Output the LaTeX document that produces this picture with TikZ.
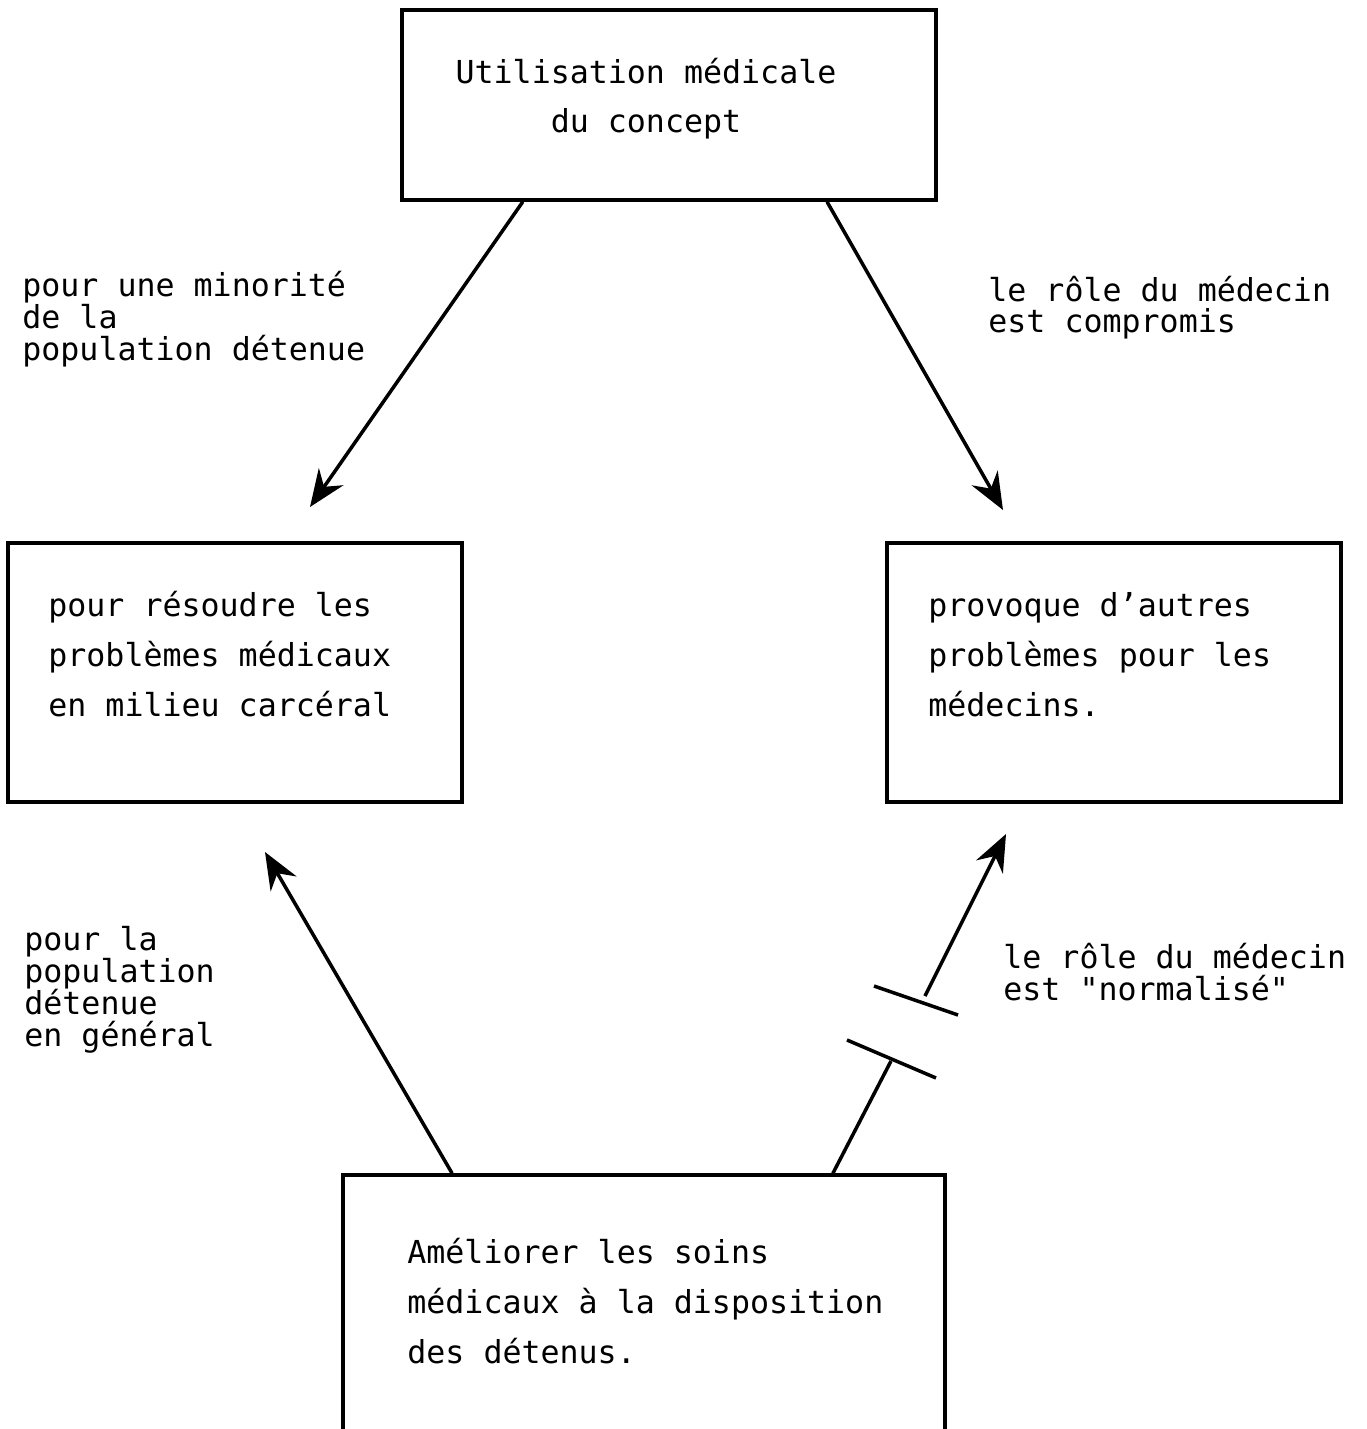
\documentclass[tikz,border=0pt]{standalone}
\usepackage{fontspec}
\setmonofont{DejaVu Sans Mono}
\usetikzlibrary{arrows.meta,calc,fit}

\tikzset{
  box/.style={draw, line width=2pt, inner sep=0pt},
  boxtext/.style={anchor=base west, inner sep=0pt, align=left, font=\ttfamily\fontsize{18}{28.3}\selectfont},
  lbltext/.style={anchor=base west, inner sep=0pt, align=left, font=\ttfamily\fontsize{18}{18.2}\selectfont},
  arr/.style={line width=2pt, -{Stealth[length=21pt,width=17pt,inset=7pt]}},
}

\begin{document}
\begin{tikzpicture}[x=0.02cm, y=-0.02cm]
\useasboundingbox (0,0) rectangle (1366,1429);

% les quatre cadres
\node[box, fit={(402,10) (936,200)}] (usage) {};
\node[box, fit={(8,543) (462,802)}] (resoudre) {};
\node[box, fit={(887,543) (1341,802)}] (autres) {};
\node[box, fit={(343,1175) (945,1460)}] (soins) {};

% (base = ligne du bas)
\node[boxtext, anchor=base, align=center] (usagetxt) at (646,133) {Utilisation médicale\\du concept};
\node[boxtext] (resoudretxt) at (48,716) {pour résoudre les\\problèmes médicaux\\en milieu carcéral};
\node[boxtext] (autrestxt) at (928,716) {provoque d’autres\\problèmes pour les\\médecins.};
\node[boxtext] (soinstxt) at (407,1363) {Améliorer les soins\\médicaux à la disposition\\des détenus.};

% pointes des fleches
\coordinate (tipA) at (310,507);
\coordinate (tipB) at (1003,510);
\coordinate (tipC) at (265,852);
\coordinate (tipD) at (1006,834);
\coordinate (cutlow) at (891,1061);
\coordinate (cuthigh) at (925,996);

\draw[arr] ($(usage.south west)!0.228!(usage.south east)$) -- (tipA);
\draw[arr] ($(usage.south west)!0.794!(usage.south east)$) -- (tipB);
\draw[arr] ($(soins.north west)!0.183!(soins.north east)$) -- (tipC);
\draw[line width=2pt] ($(soins.north west)!0.812!(soins.north east)$) -- (cutlow);
\draw[arr] (cuthigh) -- (tipD);
% coupure
\draw[line width=2pt] (cutlow) ++(-44,-21) -- ++(89,38);
\draw[line width=2pt] (cuthigh) ++(-51,-10) -- ++(84,29);

% etiquettes
\node[lbltext] (minorite) at (22,360) {pour une minorité\\de la\\population détenue};
\node[lbltext] (compromis) at (988,333) {le rôle du médecin\\est compromis};
\node[lbltext] (general) at (24,1046) {pour la\\population\\détenue\\en général};
\node[lbltext] (normalise) at (1003,1000) {le rôle du médecin\\est "normalisé"};
\end{tikzpicture}
\end{document}
